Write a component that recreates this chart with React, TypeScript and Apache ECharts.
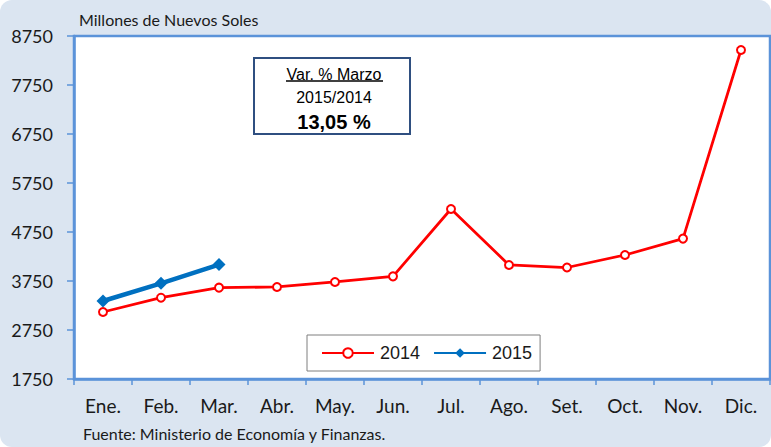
import React, { useEffect, useRef } from "react";
import * as echarts from "echarts";

const months = ["Ene.", "Feb.", "Mar.", "Abr.", "May.", "Jun.", "Jul.", "Ago.", "Set.", "Oct.", "Nov.", "Dic."];
const values2014 = [3117, 3409, 3614, 3628, 3730, 3845, 5219, 4077, 4025, 4281, 4615, 8464];
const values2015 = [3342, 3703, 4086];
const seriesNames = ["2014", "2015"];
const yMin = 1750;
const yMax = 8750;
const yStep = 1000;
const unitLabel = "Millones de Nuevos Soles";
const sourceLabel = "Fuente: Ministerio de Economía y Finanzas.";
const boxLines = ["Var. % Marzo", "2015/2014", "13,05 %"];

const AXIS_BLUE = "#5b93d9";
const LATO = "Lato, 'Open Sans', sans-serif";
const ARIAL = "'Liberation Sans', Arial, sans-serif";

export default function App() {
  const ref = useRef<HTMLDivElement>(null);

  useEffect(() => {
    document.body.style.margin = "0";
    if (!ref.current) return;
    const chart = echarts.init(ref.current, null, { renderer: "svg" });
    chart.setOption({
      animation: false,
      backgroundColor: "transparent",
      grid: {
        left: 74,
        top: 36,
        width: 696,
        height: 343,
        show: true,
        backgroundColor: "#ffffff",
        borderColor: AXIS_BLUE,
        borderWidth: 2.5,
        containLabel: false,
      },
      xAxis: {
        type: "category",
        data: months,
        boundaryGap: true,
        axisLine: { show: true, lineStyle: { color: AXIS_BLUE, width: 2.5 } },
        axisTick: { show: true, length: 6, lineStyle: { color: AXIS_BLUE, width: 1.5 } },
        axisLabel: { margin: 17, color: "#1a1a1a", fontFamily: LATO, fontSize: 19 },
        splitLine: { show: false },
      },
      yAxis: {
        type: "value",
        min: yMin,
        max: yMax,
        interval: yStep,
        axisLine: { show: true, lineStyle: { color: AXIS_BLUE, width: 2.5 } },
        axisTick: { show: true, length: 7, lineStyle: { color: AXIS_BLUE, width: 1.5 } },
        axisLabel: {
          margin: 21,
          color: "#1a1a1a",
          fontFamily: LATO,
          fontSize: 18,
          formatter: (v: number) => String(v),
        },
        splitLine: { show: false },
      },
      legend: {
        data: seriesNames,
        left: 307,
        top: 335,
        orient: "horizontal",
        backgroundColor: "#ffffff",
        borderColor: "#7f7f7f",
        borderWidth: 1,
        borderRadius: 0,
        padding: [9, 8, 9, 14],
        itemWidth: 52,
        itemHeight: 12,
        itemGap: 13,
        textStyle: { fontFamily: ARIAL, fontSize: 18, color: "#1a1a1a", padding: [0, 0, 0, 1] },
      },
      series: [
        {
          name: seriesNames[0],
          type: "line",
          data: values2014,
          symbol: "emptyCircle",
          symbolSize: 8,
          color: "#ff0000",
          lineStyle: { color: "#ff0000", width: 2.75 },
          itemStyle: { color: "#ff0000", borderColor: "#ff0000", borderWidth: 2 },
          z: 2,
        },
        {
          name: seriesNames[1],
          type: "line",
          data: values2015,
          symbol: "diamond",
          symbolSize: 13,
          color: "#0070c0",
          lineStyle: { color: "#0070c0", width: 4.5 },
          itemStyle: { color: "#0070c0" },
          z: 3,
        },
      ],
      graphic: [
        {
          type: "text",
          left: 79,
          top: 11,
          style: { text: unitLabel, font: `16px ${LATO}`, fill: "#1a1a1a" },
        },
        {
          type: "text",
          left: 83,
          top: 425,
          style: { text: sourceLabel, font: `16px ${LATO}`, fill: "#1a1a1a" },
        },
        {
          type: "group",
          left: 253,
          top: 57,
          children: [
            {
              type: "rect",
              shape: { x: 0, y: 0, width: 156, height: 76 },
              style: { fill: "#ffffff", stroke: "#2f4f80", lineWidth: 2 },
            },
            {
              type: "text",
              x: 80,
              y: 16,
              style: {
                text: boxLines[0],
                font: `16px ${ARIAL}`,
                fill: "#000000",
                textAlign: "center",
                textVerticalAlign: "middle",
                align: "center",
                verticalAlign: "middle",
              },
            },
            {
              type: "line",
              shape: { x1: 32, y1: 23, x2: 129, y2: 23 },
              style: { stroke: "#000000", lineWidth: 1.3 },
            },
            {
              type: "text",
              x: 80,
              y: 39,
              style: {
                text: boxLines[1],
                font: `16px ${ARIAL}`,
                fill: "#000000",
                textAlign: "center",
                textVerticalAlign: "middle",
                align: "center",
                verticalAlign: "middle",
              },
            },
            {
              type: "text",
              x: 80,
              y: 63.5,
              style: {
                text: boxLines[2],
                font: `bold 20px ${ARIAL}`,
                fill: "#000000",
                textAlign: "center",
                textVerticalAlign: "middle",
                align: "center",
                verticalAlign: "middle",
              },
            },
          ],
        },
      ],
    });
    return () => chart.dispose();
  }, []);

  return (
    <div
      style={{
        position: "absolute",
        left: 0,
        top: 0,
        width: 771,
        height: 447,
        background: "#dbe5f1",
        borderRadius: 12,
        overflow: "hidden",
      }}
    >
      <div ref={ref} style={{ width: 771, height: 447 }} />
    </div>
  );
}
